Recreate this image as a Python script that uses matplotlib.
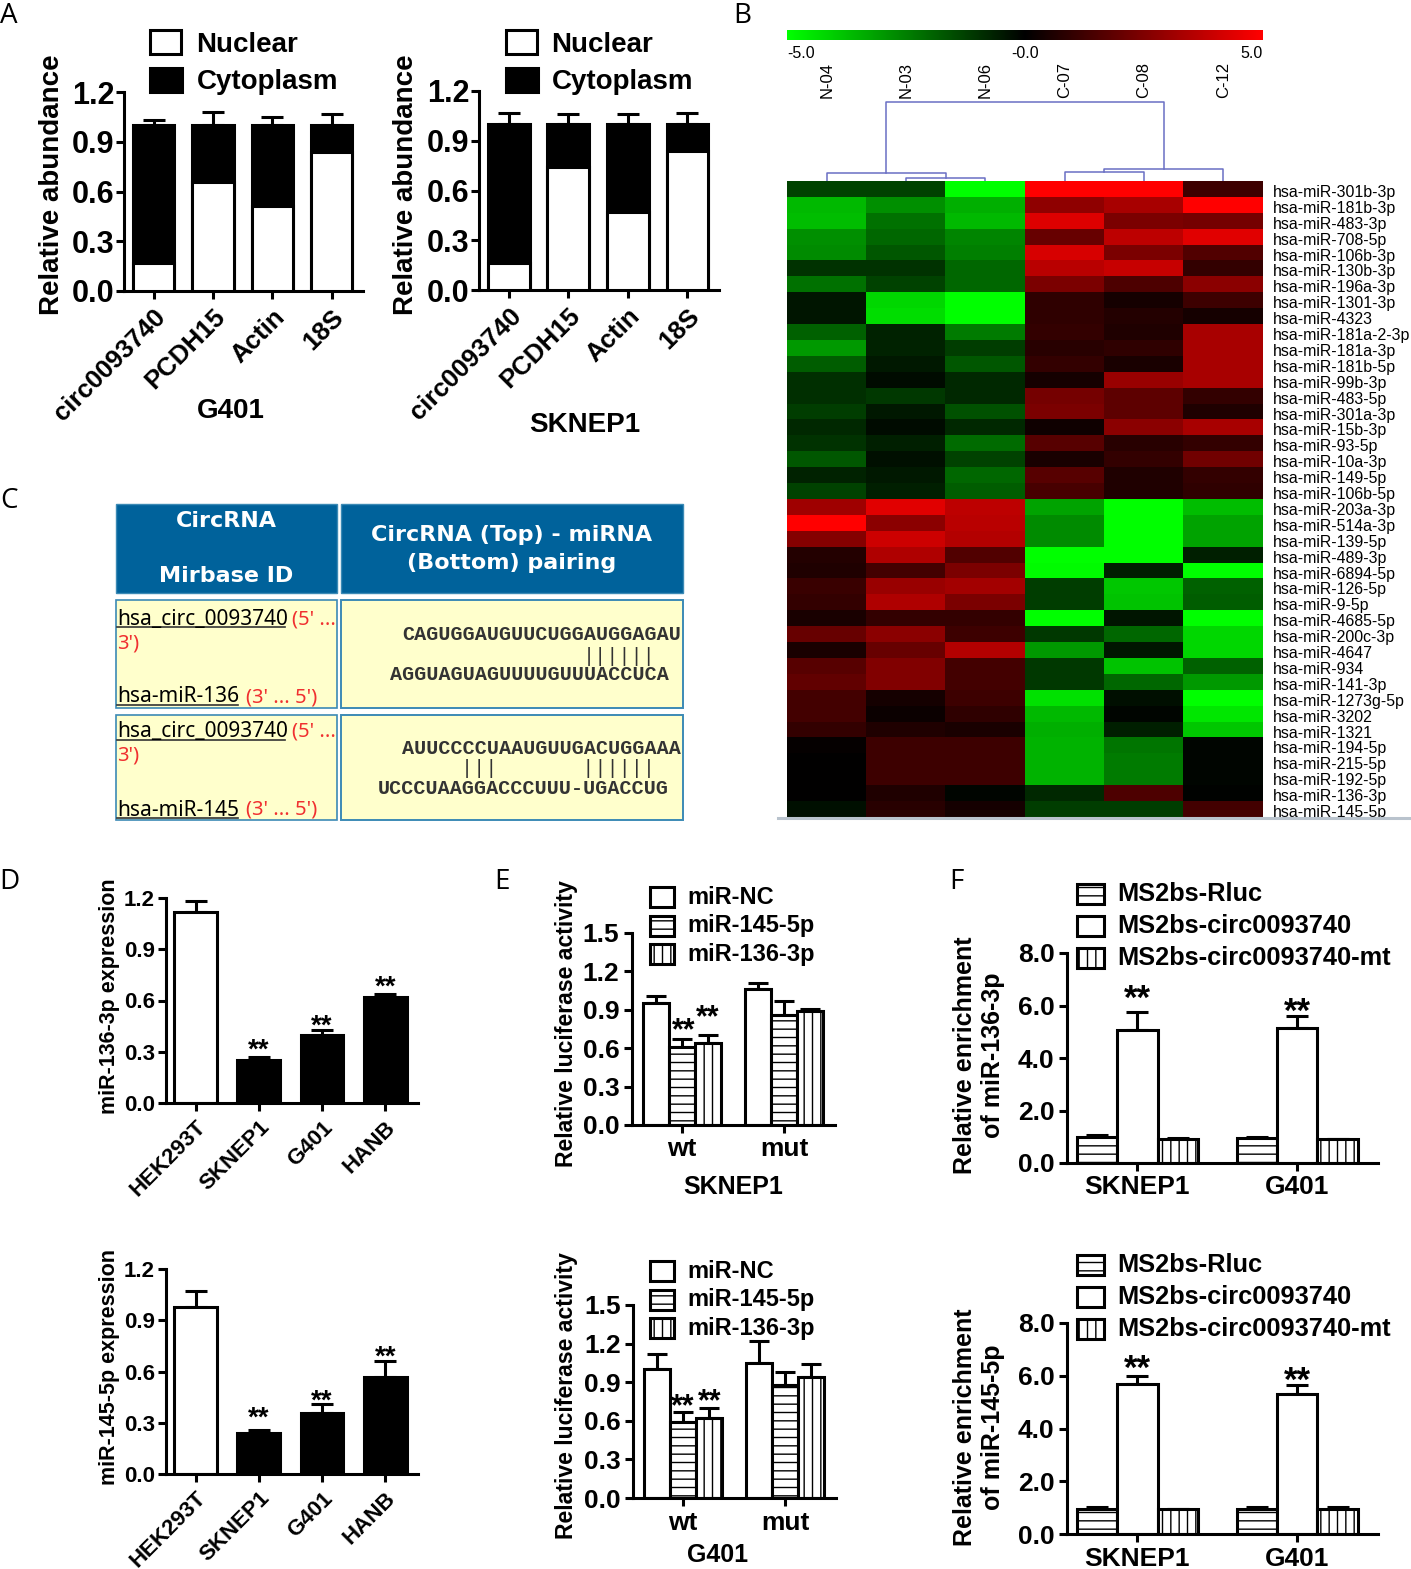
import matplotlib

matplotlib.use("Agg")
import matplotlib.pyplot as plt
import numpy as np
from matplotlib.colors import LinearSegmentedColormap
from matplotlib.patches import Rectangle
from matplotlib.transforms import ScaledTranslation

W, H = 1411, 1569
plt.rcParams["font.family"] = ["Liberation Sans", "DejaVu Sans"]
plt.rcParams["hatch.linewidth"] = 1.0

# panel A
a_genes = ["circ0093740", "PCDH15", "Actin", "18S"]
a_g401_nuclear = [0.17, 0.66, 0.51, 0.84]
a_g401_total = [1.0, 1.0, 1.0, 1.0]
a_g401_top = [1.03, 1.08, 1.05, 1.07]
a_sknep_nuclear = [0.16, 0.74, 0.47, 0.84]
a_sknep_total = [1.0, 1.0, 1.0, 1.0]
a_sknep_top = [1.07, 1.06, 1.06, 1.07]

# panel B
samples = ["N-04", "N-03", "N-06", "C-07", "C-08", "C-12"]
mirnas = [
    "hsa-miR-301b-3p", "hsa-miR-181b-3p", "hsa-miR-483-3p", "hsa-miR-708-5p",
    "hsa-miR-106b-3p", "hsa-miR-130b-3p", "hsa-miR-196a-3p", "hsa-miR-1301-3p",
    "hsa-miR-4323", "hsa-miR-181a-2-3p", "hsa-miR-181a-3p", "hsa-miR-181b-5p",
    "hsa-miR-99b-3p", "hsa-miR-483-5p", "hsa-miR-301a-3p", "hsa-miR-15b-3p",
    "hsa-miR-93-5p", "hsa-miR-10a-3p", "hsa-miR-149-5p", "hsa-miR-106b-5p",
    "hsa-miR-203a-3p", "hsa-miR-514a-3p", "hsa-miR-139-5p", "hsa-miR-489-3p",
    "hsa-miR-6894-5p", "hsa-miR-126-5p", "hsa-miR-9-5p", "hsa-miR-4685-5p",
    "hsa-miR-200c-3p", "hsa-miR-4647", "hsa-miR-934", "hsa-miR-141-3p",
    "hsa-miR-1273g-5p", "hsa-miR-3202", "hsa-miR-1321", "hsa-miR-194-5p",
    "hsa-miR-215-5p", "hsa-miR-192-5p", "hsa-miR-136-3p", "hsa-miR-145-5p",
]
heat_values = [
    [-1.3, -1.3, -5.0, 5.0, 5.0, 1.2],
    [-3.6, -2.8, -3.4, 2.8, 3.3, 5.0],
    [-3.7, -2.2, -3.6, 4.3, 2.4, 2.3],
    [-2.8, -2.0, -2.6, 2.0, 3.7, 4.4],
    [-2.7, -1.7, -2.5, 4.2, 2.4, 1.6],
    [-1.0, -1.0, -2.0, 3.6, 3.9, 1.0],
    [-2.2, -1.3, -2.0, 2.4, 1.5, 2.7],
    [-0.4, -4.2, -5.0, 0.9, 0.4, 1.2],
    [-0.4, -4.3, -5.0, 0.9, 0.7, 0.4],
    [-1.9, -0.7, -2.4, 1.0, 0.6, 3.3],
    [-3.0, -0.7, -1.2, 0.8, 0.9, 3.3],
    [-1.8, -0.5, -1.7, 1.0, 0.5, 3.3],
    [-0.9, -0.2, -0.8, 0.4, 3.0, 3.3],
    [-0.9, -1.1, -0.8, 2.3, 1.8, 1.0],
    [-1.2, -0.5, -1.6, 2.4, 1.8, 0.6],
    [-0.8, -0.2, -0.8, 0.3, 2.7, 3.3],
    [-1.0, -0.6, -2.1, 1.7, 0.8, 1.0],
    [-1.7, -0.3, -1.3, 0.5, 1.0, 2.2],
    [-0.7, -0.5, -2.0, 1.7, 0.6, 1.0],
    [-1.3, -0.6, -1.8, 1.4, 0.6, 0.9],
    [3.1, 4.4, 3.7, -3.2, -5.0, -3.7],
    [5.0, 2.7, 3.6, -2.7, -5.0, -3.2],
    [2.6, 4.0, 3.5, -2.7, -5.0, -3.2],
    [0.7, 3.4, 1.6, -5.0, -5.0, -0.6],
    [0.6, 1.3, 2.4, -4.9, -0.6, -5.0],
    [1.1, 3.0, 3.2, -1.2, -3.9, -1.9],
    [1.0, 3.4, 2.4, -1.2, -3.8, -1.8],
    [0.5, 1.0, 1.0, -5.0, -0.4, -5.0],
    [2.0, 2.7, 1.2, -1.1, -2.0, -4.2],
    [0.5, 2.0, 3.5, -3.0, -0.4, -4.2],
    [1.7, 2.5, 1.3, -1.1, -3.8, -1.9],
    [1.9, 2.5, 1.3, -1.1, -2.0, -3.0],
    [1.3, 0.4, 1.2, -4.4, -0.3, -5.0],
    [1.3, 0.2, 0.9, -3.6, -0.1, -4.5],
    [1.0, 0.6, 0.5, -3.4, -0.6, -3.9],
    [0.1, 1.2, 1.2, -3.5, -2.3, -0.1],
    [0.0, 1.2, 1.2, -3.5, -2.4, -0.1],
    [0.0, 1.2, 1.2, -3.5, -2.4, -0.1],
    [0.0, 0.6, -0.1, -0.8, 1.5, -0.05],
    [-0.3, 0.8, 0.4, -1.2, -1.2, 1.3],
]
# left x, right x, height above heatmap, left leg base, right leg base
dendro_links = [
    (1.5, 2.5, 3, 0, 0),
    (0.5, 2.0, 8, 0, 3),
    (3.5, 4.5, 9, 0, 0),
    (4.0, 5.5, 12, 9, 0),
    (1.25, 4.75, 79, 8, 12),
]

# panel D
d_lines = ["HEK293T", "SKNEP1", "G401", "HANB"]
d_136 = [1.12, 0.25, 0.40, 0.62]
d_136_top = [1.18, 0.27, 0.43, 0.64]
d_136_star = [0.34, 0.48, 0.71]
d_145 = [0.98, 0.24, 0.36, 0.57]
d_145_top = [1.07, 0.26, 0.41, 0.66]
d_145_star = [0.357, 0.457, 0.715]

# panel E
e_groups = ["wt", "mut"]
e_names = ["miR-NC", "miR-145-5p", "miR-136-3p"]
e_sk = [[0.95, 1.06], [0.61, 0.86], [0.64, 0.89]]
e_sk_top = [[1.01, 1.11], [0.67, 0.97], [0.70, 0.91]]
e_sk_star = [0.78, 0.88]
e_g4 = [[1.00, 1.05], [0.59, 0.88], [0.62, 0.94]]
e_g4_top = [[1.12, 1.22], [0.67, 0.98], [0.70, 1.04]]
e_g4_star = [0.75, 0.79]

# panel F
f_groups = ["SKNEP1", "G401"]
f_names = ["MS2bs-Rluc", "MS2bs-circ0093740", "MS2bs-circ0093740-mt"]
f_136 = [[1.00, 0.95], [5.05, 5.15], [0.90, 0.90]]
f_136_top = [[1.05, 1.00], [5.75, 5.60], [0.95, 0.93]]
f_136_star = [6.48, 6.0]
f_145 = [[0.95, 0.95], [5.70, 5.30], [0.93, 0.93]]
f_145_top = [[1.02, 1.03], [6.00, 5.65], [0.95, 1.03]]
f_145_star = [6.5, 6.05]

LW = 2.2

fig = plt.figure(figsize=(W / 100, H / 100), dpi=100)
over = fig.add_axes([0, 0, 1, 1], zorder=10)
over.set_xlim(0, W)
over.set_ylim(H, 0)
over.axis("off")


def px_axes(left, right, top, bottom):
    return fig.add_axes([left / W, 1 - bottom / H, (right - left) / W, (bottom - top) / H])


def style_axis(ax, yticks, fs, pad=2):
    ax.spines[["top", "right"]].set_visible(False)
    ax.spines[["left", "bottom"]].set_linewidth(LW)
    ax.set_ylim(yticks[0], yticks[-1])
    ax.set_yticks(yticks)
    ax.set_yticklabels(["%.1f" % t for t in yticks], fontsize=fs, fontweight="bold")
    ax.tick_params(width=LW, length=6, pad=pad)


def up_err(ax, x, val, top, cap):
    val = np.asarray(val, dtype=float)
    top = np.asarray(top, dtype=float)
    ax.errorbar(x, val, yerr=[np.zeros_like(val), top - val], fmt="none", ecolor="black",
                elinewidth=LW, capsize=cap, capthick=LW, zorder=1)


def stars(ax, xs, ys, fs):
    # anchor at the glyph centre, the asterisks sit high in the text box
    for x, y in zip(xs, ys):
        ax.annotate("**", (x, y), xytext=(0, -0.2 * fs), textcoords="offset points",
                    ha="center", va="center", fontsize=fs, fontweight="bold")


def label(x, y, s, fs, rot=0, ha="center", weight="bold", **kw):
    if rot:
        x += 2
    else:
        y += 2
    over.text(x, y, s, fontsize=fs, rotation=rot, ha=ha, va="center", fontweight=weight,
              color=kw.pop("color", "black"), **kw)


def key(x0, x1, y0, y1, color="white", hatch=""):
    over.add_patch(Rectangle((x0, y0), x1 - x0, y1 - y0, facecolor=color, edgecolor="black",
                             linewidth=LW, hatch=hatch))


def panel_a(left, right, top, bottom, nuclear, total, upper):
    ax = px_axes(left, right, top, bottom)
    x = np.arange(len(a_genes))
    up_err(ax, x, total, upper, 8)
    ax.bar(x, total, 0.7, color="black", edgecolor="black", linewidth=LW, zorder=2)
    ax.bar(x, nuclear, 0.7, color="white", edgecolor="black", linewidth=LW, zorder=3)
    style_axis(ax, [0.0, 0.3, 0.6, 0.9, 1.2], 22, pad=1)
    ax.set_xlim(-0.5, 3.53)
    ax.set_xticks(x)
    ax.set_xticklabels(a_genes, rotation=45, ha="right", rotation_mode="anchor",
                       fontsize=18.6, fontweight="bold")
    ax.tick_params(axis="x", pad=4)
    return ax


def panel_d(top, bottom, vals, upper, star_y):
    ax = px_axes(166, 418, top, bottom)
    x = np.arange(len(d_lines))
    up_err(ax, x, vals, upper, 8)
    ax.bar(x, vals, 0.68, color=["white", "black", "black", "black"], edgecolor="black",
           linewidth=LW, zorder=2)
    style_axis(ax, [0.0, 0.3, 0.6, 0.9, 1.2], 16)
    ax.set_xlim(-0.47, 3.52)
    ax.set_xticks(x)
    ax.set_xticklabels(d_lines, rotation=45, ha="right", rotation_mode="anchor",
                       fontsize=16, fontweight="bold")
    ax.tick_params(axis="x", pad=4)
    stars(ax, x[1:], star_y, 20)
    return ax


def grouped(left, right, top, bottom, vals, upper, groups, yticks, hatches, width, xlim, cap):
    ax = px_axes(left, right, top, bottom)
    x = np.arange(len(groups))
    for i, (v, u) in enumerate(zip(vals, upper)):
        xs = x + (i - 1) * width
        up_err(ax, xs, v, u, cap)
        ax.bar(xs, v, width, color="white", edgecolor="black", linewidth=LW, zorder=2, hatch=hatches[i])
    style_axis(ax, yticks, 19, pad=3)
    ax.set_xlim(*xlim)
    ax.set_xticks(x)
    ax.set_xticklabels(groups, fontsize=19, fontweight="bold")
    ax.tick_params(axis="x", pad=3)
    return ax


# A
panel_a(124, 363, 92, 291, a_g401_nuclear, a_g401_total, a_g401_top)
panel_a(479, 719, 91, 290, a_sknep_nuclear, a_sknep_total, a_sknep_top)
label(50, 185, "Relative abundance", 20, rot=90)
label(404, 185, "Relative abundance", 20, rot=90)
label(231, 409, "G401", 20)
label(585, 423, "SKNEP1", 20)
for x0, tx in ((150, 196), (506, 551)):
    key(x0, x0 + 31, 30, 54)
    key(x0, x0 + 32, 68, 92, color="black")
    label(tx, 43, "Nuclear", 20, ha="left")
    label(tx + 1, 80, "Cytoplasm", 20, ha="left")

# B
hm_l, hm_r, hm_t, hm_b = 787, 1263, 181, 817
green_red = LinearSegmentedColormap.from_list("gkr", ["#00ff00", "#000000", "#ff0000"])
ax_hm = px_axes(hm_l, hm_r, hm_t, hm_b)
ax_hm.imshow(np.array(heat_values), cmap=green_red, vmin=-5, vmax=5, aspect="auto",
             interpolation="nearest")
ax_hm.set_xticks([])
ax_hm.yaxis.tick_right()
ax_hm.set_yticks(np.arange(len(mirnas)))
ax_hm.set_yticklabels(mirnas, fontsize=11.4)
ax_hm.tick_params(axis="y", length=0, pad=7)
for t in ax_hm.get_yticklabels():
    t.set_transform(t.get_transform() + ScaledTranslation(0, -2 / 100, fig.dpi_scale_trans))
for s in ax_hm.spines.values():
    s.set_visible(False)

ax_cb = px_axes(hm_l, hm_r, 30, 40)
ax_cb.imshow(np.linspace(-5, 5, 256)[None, :], cmap=green_red, aspect="auto")
ax_cb.axis("off")
label(787, 52, "-5.0", 11.5, ha="left", weight="normal")
label(1025, 52, "-0.0", 11.5, weight="normal")
label(1263, 52, "5.0", 11.5, ha="right", weight="normal")

ax_den = px_axes(hm_l, hm_r, 100, hm_t)
ax_den.set_xlim(0, len(samples))
ax_den.set_ylim(0, hm_t - 100)
ax_den.axis("off")
for x0, x1, h, b0, b1 in dendro_links:
    ax_den.plot([x0, x0, x1, x1], [b0, h, h, b1], color="#6a6fc4", lw=1.1)
col_w = (hm_r - hm_l) / len(samples)
for i, s in enumerate(samples):
    label(hm_l + (i + 0.5) * col_w - 2, 80, s, 12, rot=90, weight="normal")
over.plot([778, W], [818, 818], color="#b9c3cd", lw=2.2)

# C
HEAD = "#00629b"
EDGE = "#3c8ab5"
YEL = "#ffffcc"
over.add_patch(Rectangle((116, 504), 221, 89, facecolor=HEAD, edgecolor=EDGE, lw=1))
over.add_patch(Rectangle((341, 504), 342, 89, facecolor=HEAD, edgecolor=EDGE, lw=1))
for y0, y1 in ((600, 708), (715, 820)):
    over.add_patch(Rectangle((116, y0), 221, y1 - y0, facecolor=YEL, edgecolor=EDGE, lw=1.2))
    over.add_patch(Rectangle((341, y0), 342, y1 - y0, facecolor=YEL, edgecolor=EDGE, lw=1.4))
table_font = ["Noto Sans", "DejaVu Sans"]
head_font = "DejaVu Sans"
label(226, 519, "CircRNA", 16, color="white", family=head_font)
label(226, 574, "Mirbase ID", 16, color="white", family=head_font)
label(512, 533, "CircRNA (Top) - miRNA", 16, color="white", family=head_font)
label(512, 561, "(Bottom) pairing", 16, color="white", family=head_font)
for dy, mir, seq1, pipes, px0, seq2, sx2 in (
    (0, "hsa-miR-136", "CAGUGGAUGUUCUGGAUGGAGAU", "||||||", 583, "AGGUAGUAGUUUUGUUUACCUCA", 390),
    (113, "hsa-miR-145", "AUUCCCCUAAUGUUGACUGGAAA", "|||       ||||||", 461, "UCCCUAAGGACCCUUU-UGACCUG", 378),
):
    label(117, 617 + dy, "hsa_circ_0093740", 15, ha="left", weight="normal", family=table_font)
    over.plot([117, 285], [627 + dy, 627 + dy], color="#333333", lw=1.2)
    label(292, 617 + dy, "(5' ...", 14.5, ha="left", weight="normal", color="#f03030", family=table_font)
    label(117, 641 + dy, "3')", 14.5, ha="left", weight="normal", color="#f03030", family=table_font)
    label(117, 695 + dy, mir, 15, ha="left", weight="normal", family=table_font)
    over.plot([117, 238], [705 + dy, 705 + dy], color="#333333", lw=1.2)
    label(246, 695 + dy, "(3' ... 5')", 14.5, ha="left", weight="normal", color="#f03030", family=table_font)
    label(402, 633 + dy, seq1, 14.5, ha="left", family="Liberation Mono", color="#333333")
    label(px0, 654 + dy, pipes, 14.5, ha="left", family="Liberation Mono", weight="normal", color="#333333")
    label(sx2, 673 + dy, seq2, 14.5, ha="left", family="Liberation Mono", color="#333333")

# D
panel_d(898, 1103, d_136, d_136_top, d_136_star)
panel_d(1269, 1474, d_145, d_145_top, d_145_star)
label(108, 996, "miR-136-3p expression", 15.5, rot=90)
label(108, 1367, "miR-145-5p expression", 15.5, rot=90)

# E
e_hatch = ["", "--", "||"]
e_ticks = [0.0, 0.3, 0.6, 0.9, 1.2, 1.5]
ax_e1 = grouped(632, 835, 933, 1125, e_sk, e_sk_top, e_groups, e_ticks, e_hatch, 0.255, (-0.49, 1.5), 7)
ax_e2 = grouped(633, 836, 1305, 1498, e_g4, e_g4_top, e_groups, e_ticks, e_hatch, 0.255, (-0.49, 1.5), 7)
stars(ax_e1, [0.02, 0.25], e_sk_star, 22)
stars(ax_e2, [0.0, 0.265], e_g4_star, 22)
label(565, 1024, "Relative luciferase activity", 16.6, rot=90)
label(565, 1396, "Relative luciferase activity", 16.6, rot=90)
label(733, 1185, "SKNEP1", 18)
label(718, 1553, "G401", 18)
for y0 in (895, 1269):
    for i, name in enumerate(e_names):
        yc = y0 + i * 28.5
        key(650, 674, yc - 8, yc + 12, hatch=e_hatch[i])
        label(687, yc, name, 17, ha="left")

# F
f_ticks = [0.0, 2.0, 4.0, 6.0, 8.0]
f_hatch = ["--", "", "||"]
ax_f1 = grouped(1067, 1378, 953, 1163, f_136, f_136_top, f_groups, f_ticks, f_hatch, 0.253, (-0.44, 1.505), 8)
ax_f2 = grouped(1067, 1378, 1323, 1534, f_145, f_145_top, f_groups, f_ticks, f_hatch, 0.253, (-0.44, 1.505), 8)
stars(ax_f1, [0, 1], f_136_star, 25)
stars(ax_f2, [0, 1], f_145_star, 25)
label(977, 1055, "Relative enrichment\nof miR-136-3p", 18, rot=90)
label(977, 1427, "Relative enrichment\nof miR-145-5p", 18, rot=90)
for y0 in (892, 1263):
    for i, name in enumerate(f_names):
        yc = y0 + i * 32
        key(1077, 1104, yc - 8, yc + 12, hatch=f_hatch[i])
        label(1117, yc, name, 18.3, ha="left")

# panel letters
for s, x, y in (("A", 9, 14), ("B", 742, 14), ("C", 9, 499), ("D", 9, 880), ("E", 502, 880), ("F", 956, 880)):
    label(x, y, s, 20, weight="normal", family="Open Sans")

fig.savefig("out.png", dpi=100)
